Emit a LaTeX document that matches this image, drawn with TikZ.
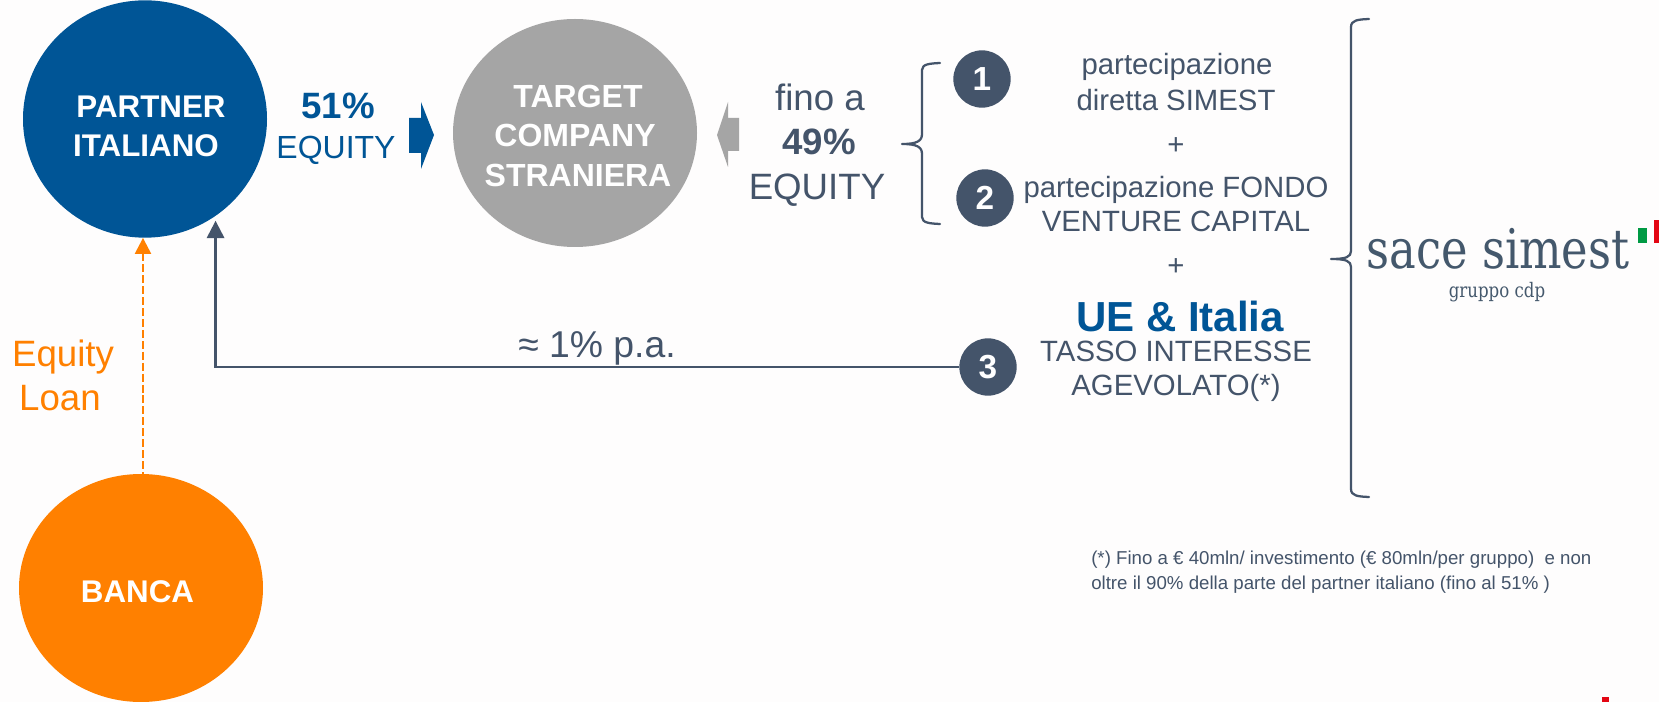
\documentclass[tikz,border=0pt]{standalone}
\usepackage{fontspec}
\usepackage{graphicx}
\setmainfont{Liberation Sans}
\newfontfamily\logofont{DejaVu Serif}
\usetikzlibrary{arrows.meta,shapes.geometric}
\definecolor{bgc}{HTML}{FEFDFD}
\definecolor{bluec}{HTML}{005596}
\definecolor{greyc}{HTML}{A5A5A5}
\definecolor{orangec}{HTML}{FF8000}
\definecolor{darkc}{HTML}{44546A}
\definecolor{logoc}{HTML}{44586C}
\definecolor{greenc}{HTML}{009A44}
\definecolor{redc}{HTML}{E30613}
\newcommand{\fnt}[1]{\fontsize{#1}{#1}\selectfont}
\tikzset{
  x=0.75pt,y=-0.75pt,
  blob/.style={ellipse,draw=none,inner sep=0pt,minimum width=183pt},
  txt/.style={inner sep=0pt,text=darkc,align=center},
  wtxt/.style={inner sep=0pt,text=white,font=\bfseries\fnt{23.5}},
  badge/.style={circle,fill=darkc,text=white,inner sep=0pt,minimum size=43pt,font=\bfseries\fnt{25}},
  brace/.style={draw=darkc,line width=1.7pt,line cap=round,line join=round},
  conn/.style={draw=darkc,line width=1.7pt,{Triangle[length=13pt,width=13pt]}-,shorten <=3.5pt},
  loan/.style={draw=orangec,line width=1.8pt,dash pattern=on 6pt off 2.2pt,{Triangle[length=12pt,width=12pt]}-},
}
\begin{document}
\begin{tikzpicture}
\useasboundingbox[fill=bgc] (0,0) rectangle (1659,702);
% circles
\node[blob,fill=bluec,minimum height=178pt] (partner) at (145,119) {};
\node[blob,fill=greyc,minimum height=171pt] (target) at (575,133) {};
\node[blob,fill=orangec,minimum height=171pt] (banca) at (141,588) {};
% circle labels
\node[wtxt] (t1) at (151,107) {PARTNER};
\node[wtxt] (t2) at (146,146) {ITALIANO};
\node[wtxt,font=\bfseries\fnt{24}] (t3) at (578,96) {TARGET};
\node[wtxt,font=\bfseries\fnt{24}] (t4) at (575,135) {COMPANY};
\node[wtxt,font=\bfseries\fnt{24}] (t5) at (578,175) {STRANIERA};
\node[wtxt] (t6) at (137.5,592) {BANCA};
% equity labels
\node[txt,text=bluec,font=\bfseries\fnt{27.5}] (e1) at (338,106) {51\%};
\node[txt,text=bluec,font=\fnt{24}] (e2) at (336,150) {EQUITY};
\node[txt,font=\fnt{27.5}] (f1) at (820,97) {fino a};
\node[txt,font=\bfseries\fnt{27.5}] (f2) at (819,142) {49\%};
\node[txt,font=\fnt{27.5}] (f3) at (817,190) {EQUITY};
% block arrows
\fill[bluec] (409,118) -- (421,118) -- (421,102) -- (434,135) -- (421,169) -- (421,153) -- (409,153) -- cycle;
\fill[greyc] (739,118) -- (728,118) -- (728,102) -- (717,135) -- (728,167) -- (728,151) -- (739,151) -- cycle;
% small brace
\path[brace] (940,63) .. controls (930,63.5) and (922,64) .. (922,70) -- (922,134)
  .. controls (922,141) and (917,144) .. (902,144)
  .. controls (917,144) and (922,147) .. (922,154) -- (922,217)
  .. controls (922,223) and (930,223.5) .. (940,224);
% large brace
\path[brace] (1369,19) .. controls (1358,19.5) and (1351,20) .. (1351,27) -- (1351,251)
  .. controls (1351,257) and (1346,259) .. (1331,259)
  .. controls (1346,259) and (1351,261) .. (1351,267) -- (1351,489)
  .. controls (1351,496) and (1358,496.5) .. (1369,497);
% badges
\node[badge] (n1) at (982,79) {1};
\node[badge] (n2) at (985,198) {2};
\node[badge] (n3) at (988,367) {3};
% right text
\node[txt,font=\fnt{22}] (r1) at (1177,67) {partecipazione};
\node[txt,font=\fnt{22}] (r2) at (1176,100) {diretta SIMEST};
\node[txt,font=\fnt{22}] (r3) at (1176,146) {+};
\node[txt,font=\fnt{22}] (r4) at (1176,190) {partecipazione FONDO};
\node[txt,font=\fnt{22}] (r5) at (1176,221) {VENTURE CAPITAL};
\node[txt,font=\fnt{22}] (r6) at (1176,267) {+};
\node[txt,text=bluec,font=\bfseries\fnt{31.5}] (r7) at (1180,316) {UE \& Italia};
\node[txt,font=\fnt{22}] (r8) at (1176,351) {TASSO INTERESSE};
\node[txt,font=\fnt{22}] (r9) at (1176,388) {AGEVOLATO(*)};
% connectors
\draw[conn] (partner.-54.3) |- (n3.west);
\node[txt,font=\fnt{28}] (rate) at (597,348) {≈ 1\% p.a.};
\draw[loan] (banca.89 |- partner.south) -- (banca.89);
\node[txt,text=orangec,font=\fnt{27.5}] (l1) at (63,357) {Equity};
\node[txt,text=orangec,font=\fnt{27.5}] (l2) at (60,398) {Loan};
% footnote
\node[txt,anchor=base west,font=\fnt{14}] (fn1) at (1091,564) {(*) Fino a € 40mln/ investimento (€ 80mln/per gruppo)\ \ e non};
\node[txt,anchor=base west,font=\fnt{14}] (fn2) at (1091,589) {oltre il 90\% della parte del partner italiano (fino al 51\% )};
% logo
\node[inner sep=0pt,anchor=base,text=logoc,font=\logofont\fnt{41}] (logo) at (1498,269) {\scalebox{0.82}[1]{sace simest}};
\node[inner sep=0pt,anchor=base,text=logoc,font=\logofont\fnt{15}] (logo2) at (1497,297) {\scalebox{0.83}[1]{gruppo cdp}};
\fill[greenc] (1638,228) rectangle (1647,243);
\fill[redc] (1654,220) rectangle (1659,243);
\fill[redc] (1602,697) rectangle (1609,702);
\end{tikzpicture}
\end{document}
